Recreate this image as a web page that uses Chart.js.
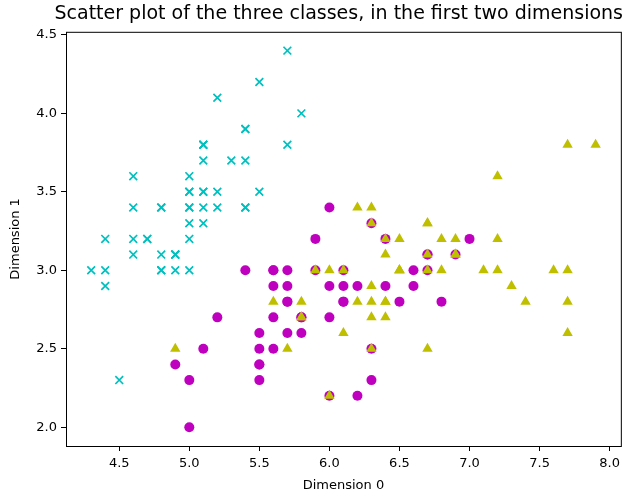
<!DOCTYPE html>
<html>
<head>
<meta charset="utf-8">
<script src="https://cdn.jsdelivr.net/npm/chart.js@4"></script>
<style>
  html, body { margin: 0; padding: 0; background: #fff; }
  #wrap { width: 625px; height: 493px; }
</style>
</head>
<body>
<div id="wrap"><canvas id="chart"></canvas></div>
<script>
// Iris, sepal length (Dimension 0) vs sepal width (Dimension 1)
const setosaX = [5.1,4.9,4.7,4.6,5.0,5.4,4.6,5.0,4.4,4.9,5.4,4.8,4.8,4.3,5.8,5.7,5.4,5.1,5.7,5.1,5.4,5.1,4.6,5.1,4.8,5.0,5.0,5.2,5.2,4.7,4.8,5.4,5.2,5.5,4.9,5.0,5.5,4.9,4.4,5.1,5.0,4.5,4.4,5.0,5.1,4.8,5.1,4.6,5.3,5.0];
const setosaY = [3.5,3.0,3.2,3.1,3.6,3.9,3.4,3.4,2.9,3.1,3.7,3.4,3.0,3.0,4.0,4.4,3.9,3.5,3.8,3.8,3.4,3.7,3.6,3.3,3.4,3.0,3.4,3.5,3.4,3.2,3.1,3.4,4.1,4.2,3.1,3.2,3.5,3.1,3.0,3.4,3.5,2.3,3.2,3.5,3.8,3.0,3.8,3.2,3.7,3.3];

const versicolorX = [7.0,6.4,6.9,5.5,6.5,5.7,6.3,4.9,6.6,5.2,5.0,5.9,6.0,6.1,5.6,6.7,5.6,5.8,6.2,5.6,5.9,6.1,6.3,6.1,6.4,6.6,6.8,6.7,6.0,5.7,5.5,5.5,5.8,6.0,5.4,6.0,6.7,6.3,5.6,5.5,5.5,6.1,5.8,5.0,5.6,5.7,5.7,6.2,5.1,5.7];
const versicolorY = [3.2,3.2,3.1,2.3,2.8,2.8,3.3,2.4,2.9,2.7,2.0,3.0,2.2,2.9,2.9,3.1,3.0,2.7,2.2,2.5,3.2,2.8,2.5,2.8,2.9,3.0,2.8,3.0,2.9,2.6,2.4,2.4,2.7,2.7,3.0,3.4,3.1,2.3,3.0,2.5,2.6,3.0,2.6,2.3,2.7,3.0,2.9,2.9,2.5,2.8];

const virginicaX = [6.3,5.8,7.1,6.3,6.5,7.6,4.9,7.3,6.7,7.2,6.5,6.4,6.8,5.7,5.8,6.4,6.5,7.7,7.7,6.0,6.9,5.6,7.7,6.3,6.7,7.2,6.2,6.1,6.4,7.2,7.4,7.9,6.4,6.3,6.1,7.7,6.3,6.4,6.0,6.9,6.7,6.9,5.8,6.8,6.7,6.7,6.3,6.5,6.2,5.9];
const virginicaY = [3.3,2.7,3.0,2.9,3.0,3.0,2.5,2.9,2.5,3.6,3.2,2.7,3.0,2.5,2.8,3.2,3.0,3.8,2.6,2.2,3.2,2.8,2.8,2.7,3.3,3.2,2.8,3.0,2.8,3.0,2.8,3.8,2.8,2.8,2.6,3.0,3.4,3.1,3.0,3.1,3.1,3.1,2.7,3.2,3.3,3.0,2.5,3.0,3.4,3.0];

const xTicks = [4.5, 5.0, 5.5, 6.0, 6.5, 7.0, 7.5, 8.0];
const yTicks = [2.0, 2.5, 3.0, 3.5, 4.0, 4.5];

const toPoints = (xs, ys) => xs.map((x, i) => ({ x: x, y: ys[i] }));

const frame = {
  id: "frame",
  afterDraw(chart) {
    const { ctx, chartArea: a } = chart;
    ctx.save();
    ctx.strokeStyle = "#000";
    ctx.lineWidth = 1;
    ctx.strokeRect(a.left + 0.5, a.top + 0.5, a.right - a.left, a.bottom - a.top);
    ctx.restore();
  }
};

const font = { family: "DejaVu Sans", size: 13 };

new Chart(document.getElementById("chart"), {
  type: "scatter",
  data: {
    datasets: [
      {
        label: "setosa",
        data: toPoints(setosaX, setosaY),
        pointStyle: "crossRot",
        pointRadius: 5.5,
        pointBorderWidth: 1.7,
        borderColor: "#00bfbf",
        backgroundColor: "#00bfbf",
        order: 3
      },
      {
        label: "versicolor",
        data: toPoints(versicolorX, versicolorY),
        pointStyle: "circle",
        pointRadius: 5,
        pointBorderWidth: 0,
        borderColor: "#bf00bf",
        backgroundColor: "#bf00bf",
        order: 2
      },
      {
        label: "virginica",
        data: toPoints(virginicaX, virginicaY),
        pointStyle: "triangle",
        pointRadius: 6,
        pointBorderWidth: 0,
        borderColor: "#bfbf00",
        backgroundColor: "#bfbf00",
        order: 1
      }
    ]
  },
  options: {
    responsive: true,
    maintainAspectRatio: false,
    animation: false,
    layout: { autoPadding: false, padding: { left: 8, right: 2, top: 0, bottom: 0 } },
    plugins: {
      legend: { display: false },
      tooltip: { enabled: false },
      title: {
        display: true,
        text: "Scatter plot of the three classes, in the first two dimensions",
        color: "#000",
        font: { family: "DejaVu Sans", size: 19, weight: "normal" },
        align: "end",
        padding: { top: 3, bottom: 6 }
      }
    },
    scales: {
      x: {
        type: "linear",
        min: 4.12,
        max: 8.08,
        afterBuildTicks: (s) => { s.ticks = xTicks.map((v) => ({ value: v })); },
        afterFit: (s) => { s.height = 47; },
        grid: { display: true, drawOnChartArea: false, drawTicks: true, tickLength: 5, color: "#000" },
        border: { display: false },
        ticks: { color: "#000", font: font, padding: 5, callback: (v) => v.toFixed(1), maxRotation: 0 },
        title: { display: true, text: "Dimension 0", color: "#000", font: font, padding: { top: 2, bottom: 0 } }
      },
      y: {
        type: "linear",
        min: 1.88,
        max: 4.52,
        afterBuildTicks: (s) => { s.ticks = yTicks.map((v) => ({ value: v })); },
        afterFit: (s) => { s.width = 58; },
        grid: { display: true, drawOnChartArea: false, drawTicks: true, tickLength: 5, color: "#000" },
        border: { display: false },
        ticks: { color: "#000", font: font, padding: 4, callback: (v) => v.toFixed(1) },
        title: { display: true, text: "Dimension 1", color: "#000", font: font, padding: { top: 0, bottom: 4 } }
      }
    }
  },
  plugins: [frame]
});
</script>
</body>
</html>
